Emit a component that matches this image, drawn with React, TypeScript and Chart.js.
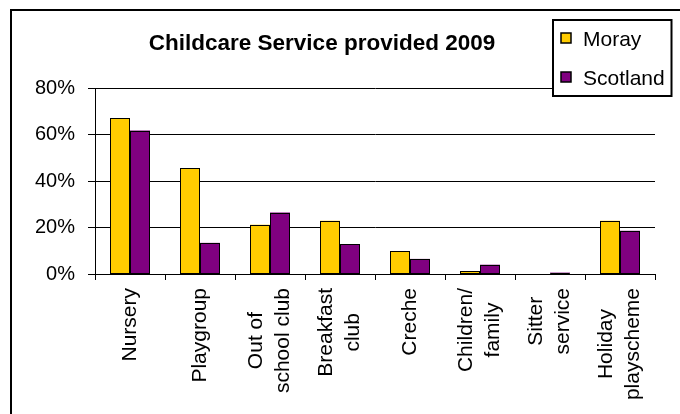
import React, { useEffect, useRef } from 'react';
import { Chart, registerables } from 'chart.js';

Chart.register(...registerables);

// ---- data ----
const categories: string[][] = [
  ['Nursery'],
  ['Playgroup'],
  ['Out of', 'school club'],
  ['Breakfast', 'club'],
  ['Creche'],
  ['Children/', 'family'],
  ['Sitter', 'service'],
  ['Holiday', 'playscheme'],
];
const morayValues = [67.0, 45.4, 21.2, 22.9, 9.9, 1.3, 0, 22.9];
const scotlandValues = [61.7, 13.4, 26.4, 12.7, 6.5, 4.0, 0.6, 18.6];
const yTicks = [0, 20, 40, 60, 80];
const seriesNames = ['Moray', 'Scotland'];
const seriesColors = ['#FFCC00', '#800080'];
const titleText = 'Childcare Service provided 2009';

const FONT = "'Liberation Sans', Arial, sans-serif";

// crisp black outlines around bars (positions taken from the bar elements)
const outlinePlugin = {
  id: 'outline',
  afterDatasetsDraw(chart: any) {
    const ctx: CanvasRenderingContext2D = chart.ctx;
    ctx.save();
    ctx.strokeStyle = '#000';
    ctx.lineWidth = 1;
    chart.data.datasets.forEach((d: any, di: number) => {
      const meta = chart.getDatasetMeta(di);
      meta.data.forEach((bar: any, i: number) => {
        if (!d.data[i]) return;
        const { x, y, base, width } = bar.getProps(['x', 'y', 'base', 'width'], true);
        const l = Math.round(x - width / 2) + 0.5;
        const r = Math.round(x + width / 2) - 0.5;
        const t = Math.round(y) + 0.5;
        const b = Math.round(base) - 0.5;
        ctx.strokeRect(l, t, r - l, Math.max(b - t, 0));
      });
    });
    ctx.restore();
  },
};

const decorPlugin = {
  id: 'decor',
  afterDraw(chart: any) {
    const ctx: CanvasRenderingContext2D = chart.ctx;
    ctx.save();
    // outer frame (left and top visible)
    ctx.strokeStyle = '#000';
    ctx.lineWidth = 2;
    ctx.beginPath();
    ctx.moveTo(11, 414);
    ctx.lineTo(11, 10);
    ctx.lineTo(680, 10);
    ctx.stroke();

    // title
    ctx.fillStyle = '#000';
    ctx.font = `bold 22.5px ${FONT}`;
    ctx.textAlign = 'center';
    ctx.textBaseline = 'alphabetic';
    ctx.fillText(titleText, 322, 50);

    // category labels (rotated, lines centred in block, block anchored at top)
    const xs = chart.scales.x;
    ctx.font = `21px ${FONT}`;
    const lh = 27;
    const top = 288;
    categories.forEach((lines, i) => {
      const cx = xs.getPixelForValue(i);
      const w = Math.max(...lines.map((l) => ctx.measureText(l).width));
      lines.forEach((line, j) => {
        const lx = cx + (j - (lines.length - 1) / 2) * lh;
        ctx.save();
        ctx.translate(lx, top + w / 2);
        ctx.rotate(-Math.PI / 2);
        ctx.textAlign = 'center';
        ctx.textBaseline = 'middle';
        ctx.fillText(line, 0, 0);
        ctx.restore();
      });
    });

    // legend box
    ctx.fillStyle = '#fff';
    ctx.fillRect(553, 20, 118.5, 76);
    ctx.lineWidth = 2;
    ctx.strokeStyle = '#000';
    ctx.strokeRect(553, 20, 118.5, 76);
    ctx.font = `21px ${FONT}`;
    ctx.textAlign = 'left';
    ctx.textBaseline = 'alphabetic';
    const ds = chart.data.datasets;
    const itemY = [33, 72];
    const baseY = [46, 85];
    ds.forEach((d: any, k: number) => {
      ctx.fillStyle = d.backgroundColor;
      ctx.fillRect(561, itemY[k], 10, 10);
      ctx.lineWidth = 1.5;
      ctx.strokeStyle = '#000';
      ctx.strokeRect(561, itemY[k], 10, 10);
      ctx.fillStyle = '#000';
      ctx.fillText(d.label, 583, baseY[k]);
    });
    ctx.restore();
  },
};

export default function App() {
  const ref = useRef<HTMLCanvasElement | null>(null);
  useEffect(() => {
    if (!ref.current) return;
    const barStyle = {
      borderWidth: 0,
      inflateAmount: 0,
      barThickness: 20,
    };
    const chart = new Chart(ref.current, {
      type: 'bar',
      data: {
        labels: categories.map((c) => c.join(' ')),
        datasets: [
          {
            label: seriesNames[0],
            data: morayValues,
            backgroundColor: seriesColors[0],
            ...barStyle,
          },
          {
            label: seriesNames[1],
            data: scotlandValues,
            backgroundColor: seriesColors[1],
            ...barStyle,
          },
        ],
      },
      options: {
        responsive: false,
        animation: false,
        layout: { padding: { top: 88, right: 25, left: 0, bottom: 0 } },
        plugins: {
          legend: { display: false },
          title: { display: false },
          tooltip: { enabled: false },
        },
        scales: {
          x: {
            grid: {
              display: true,
              drawOnChartArea: false,
              offset: true,
              color: '#000',
              tickColor: '#000',
              tickLength: 6,
            },
            border: { color: '#000', width: 1 },
            ticks: { display: false },
            afterFit: (s: any) => {
              s.height = 140;
            },
          },
          y: {
            min: 0,
            max: 80,
            afterBuildTicks: (s: any) => {
              s.ticks = yTicks.map((v) => ({ value: v }));
            },
            ticks: {
              callback: (v: any) => v + '%',
              color: '#000',
              font: { family: FONT, size: 20 },
              padding: 13,
            },
            grid: { color: '#000', tickColor: '#000', tickLength: 7, lineWidth: 1 },
            border: { color: '#000', width: 1 },
            afterFit: (s: any) => {
              s.width = 95;
            },
          },
        },
      },
      plugins: [outlinePlugin, decorPlugin],
    });
    return () => chart.destroy();
  }, []);
  return (
    <div style={{ position: 'fixed', left: 0, top: 0, width: 680, height: 414, background: '#fff' }}>
      <canvas ref={ref} width={680} height={414} style={{ display: 'block' }} />
    </div>
  );
}
